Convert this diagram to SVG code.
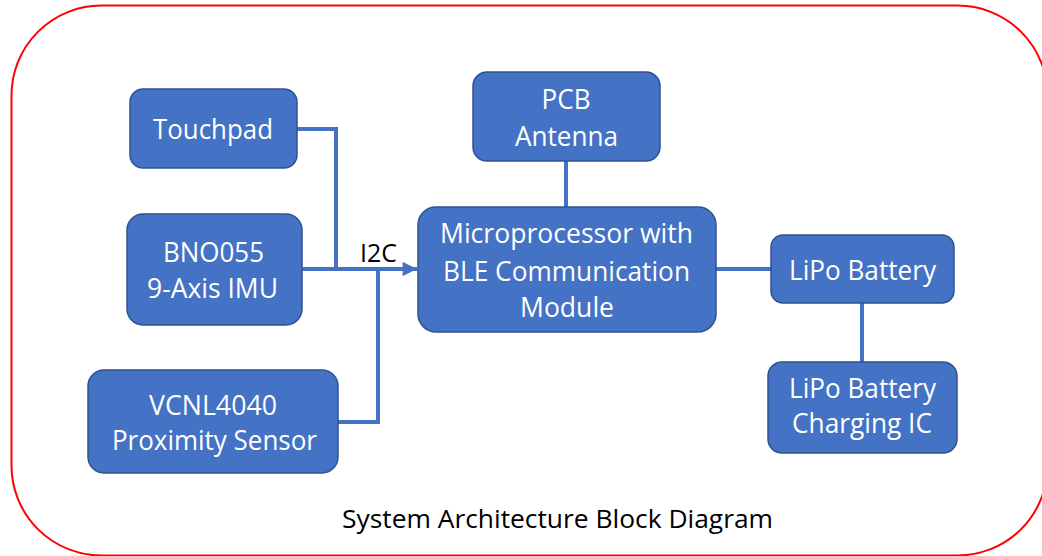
<svg xmlns="http://www.w3.org/2000/svg" width="1042" height="556" viewBox="0 0 1042 556">
  <style>
    .frame { fill: none; stroke: #ff0000; stroke-width: 2; }
    .box { fill: #4472c4; stroke: #2f528f; stroke-width: 1.5; }
    .lbl { fill: #ffffff; font-family: "Open Sans", "Noto Sans", "Liberation Sans", sans-serif; font-size: 27px; text-anchor: middle; }
    .wire { fill: none; stroke: #4472c4; stroke-width: 4; }
    .note { fill: #000000; font-family: "Open Sans", "Noto Sans", "Liberation Sans", sans-serif; font-size: 25.5px; }
  </style>
  <defs>
    <marker id="arrow" viewBox="0 0 10 10" refX="10" refY="5" markerWidth="4" markerHeight="3.6" markerUnits="strokeWidth" orient="auto">
      <path d="M0,0 L10,5 L0,10 Z" fill="#4472c4"/>
    </marker>
  </defs>

  <!-- outer rounded frame -->
  <rect class="frame" x="11.5" y="5.5" width="1036" height="550" rx="90" ry="90"/>

  <g id="connectors">
    <polyline class="wire" points="297,129 336,129 336,269"/>
    <polyline class="wire" points="338,422 378,422 378,269"/>
    <line class="wire" x1="302" y1="269" x2="417" y2="269" marker-end="url(#arrow)"/>
    <line class="wire" x1="566" y1="161" x2="566" y2="207"/>
    <line class="wire" x1="716" y1="269" x2="771" y2="269"/>
    <line class="wire" x1="862" y1="303" x2="862" y2="362"/>
    <text class="note" x="360" y="262" textLength="37" lengthAdjust="spacingAndGlyphs">I2C</text>
  </g>

  <g id="touchpad">
    <rect class="box" x="130" y="89" width="167" height="79" rx="13"/>
    <text class="lbl" x="213" y="139" textLength="120" lengthAdjust="spacingAndGlyphs">Touchpad</text>
  </g>

  <g id="imu">
    <rect class="box" x="127" y="214" width="175" height="111" rx="16"/>
    <text class="lbl" x="213.5" y="262" textLength="101" lengthAdjust="spacingAndGlyphs">BNO055</text>
    <text class="lbl" x="212.5" y="298" textLength="131" lengthAdjust="spacingAndGlyphs">9-Axis IMU</text>
  </g>

  <g id="proximity">
    <rect class="box" x="88" y="370" width="250" height="103" rx="16"/>
    <text class="lbl" x="213" y="415" textLength="128" lengthAdjust="spacingAndGlyphs">VCNL4040</text>
    <text class="lbl" x="214.5" y="450" textLength="205" lengthAdjust="spacingAndGlyphs">Proximity Sensor</text>
  </g>

  <g id="antenna">
    <rect class="box" x="473" y="72" width="187" height="89" rx="14"/>
    <text class="lbl" x="566" y="109" textLength="49" lengthAdjust="spacingAndGlyphs">PCB</text>
    <text class="lbl" x="566.5" y="146" textLength="103" lengthAdjust="spacingAndGlyphs">Antenna</text>
  </g>

  <g id="mcu">
    <rect class="box" x="418" y="207" width="298" height="125" rx="18"/>
    <text class="lbl" x="566.5" y="243" textLength="253" lengthAdjust="spacingAndGlyphs">Microprocessor with</text>
    <text class="lbl" x="566.5" y="281" textLength="247" lengthAdjust="spacingAndGlyphs">BLE Communication</text>
    <text class="lbl" x="567" y="317" textLength="94" lengthAdjust="spacingAndGlyphs">Module</text>
  </g>

  <g id="battery">
    <rect class="box" x="771" y="235" width="183" height="68" rx="12"/>
    <text class="lbl" x="862.5" y="280" textLength="147" lengthAdjust="spacingAndGlyphs">LiPo Battery</text>
  </g>

  <g id="charger">
    <rect class="box" x="768" y="362" width="189" height="91" rx="14"/>
    <text class="lbl" x="862.5" y="398" textLength="147" lengthAdjust="spacingAndGlyphs">LiPo Battery</text>
    <text class="lbl" x="862" y="433" textLength="140" lengthAdjust="spacingAndGlyphs">Charging IC</text>
  </g>

  <text class="note" x="342" y="528" textLength="431" lengthAdjust="spacingAndGlyphs">System Architecture Block Diagram</text>
</svg>
